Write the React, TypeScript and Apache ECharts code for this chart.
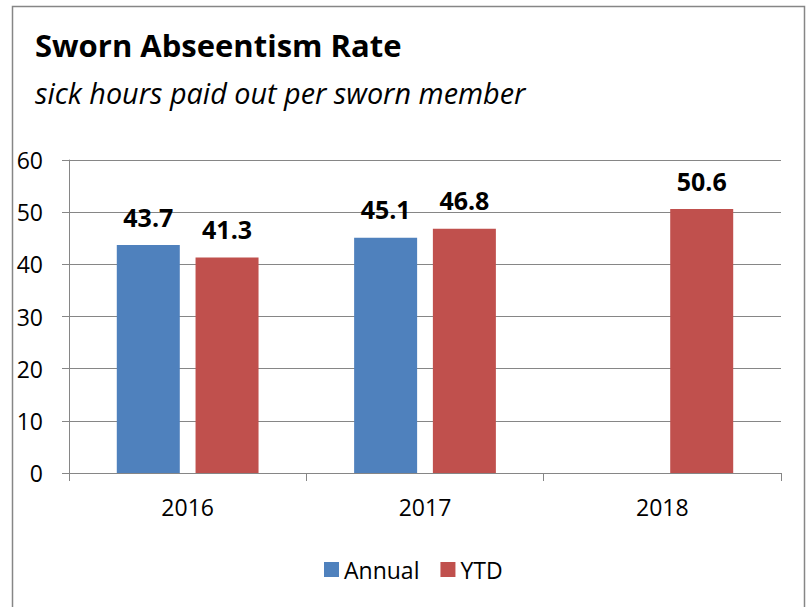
import React, { useEffect, useRef } from "react";
import * as echarts from "echarts";

const categories = ["2016", "2017", "2018"];
const annual: (number | null)[] = [43.7, 45.1, null];
const ytd: (number | null)[] = [41.3, 46.8, 50.6];
const yTicks = { min: 0, max: 60, interval: 10 };

const FONT = "Open Sans";

export default function App() {
  const ref = useRef<HTMLDivElement>(null);
  useEffect(() => {
    if (!ref.current) return;
    const chart = echarts.init(ref.current, null, { renderer: "svg" });
    const labelStyle = {
      show: true,
      position: "top" as const,
      distance: 16,
      fontFamily: FONT,
      fontWeight: "bold" as const,
      fontSize: 25,
      color: "#000",
    };
    chart.setOption({
      animation: false,
      backgroundColor: "#fff",
      title: [
        {
          text: "Sworn Abseentism Rate",
          left: 35,
          top: 29,
          padding: 0,
          textStyle: { fontFamily: FONT, fontWeight: "bold", fontSize: 31, color: "#000" },
        },
        {
          text: "sick hours paid out per sworn member",
          left: 35,
          top: 78,
          padding: 0,
          textStyle: { fontFamily: FONT, fontStyle: "italic", fontWeight: "normal", fontSize: 28.8, color: "#000" },
        },
      ],
      graphic: [
        {
          type: "rect",
          shape: { x: 12.5, y: 6.5, width: 792, height: 640 },
          style: { fill: "none", stroke: "#868686", lineWidth: 1.5 },
          silent: true,
        },
      ],
      legend: {
        top: 553,
        left: 319,
        itemWidth: 15,
        itemHeight: 15,
        itemGap: 21,
        icon: "rect",
        textStyle: { fontFamily: FONT, fontSize: 23, color: "#000" },
        data: ["Annual", "YTD"],
      },
      grid: { left: 69, right: 28, top: 160, bottom: 134 },
      xAxis: {
        type: "category",
        data: categories,
        axisLine: { lineStyle: { color: "#868686", width: 1 } },
        axisTick: { show: true, length: 8, lineStyle: { color: "#868686" } },
        axisLabel: { fontFamily: FONT, fontSize: 23, color: "#000", margin: 22 },
      },
      yAxis: {
        type: "value",
        min: yTicks.min,
        max: yTicks.max,
        interval: yTicks.interval,
        axisLine: { show: true, lineStyle: { color: "#868686", width: 1 } },
        axisTick: { show: true, length: 7, lineStyle: { color: "#868686" } },
        axisLabel: { fontFamily: FONT, fontSize: 23, color: "#000", margin: 26 },
        splitLine: { lineStyle: { color: "#868686", width: 1 } },
      },
      series: [
        {
          name: "Annual",
          type: "bar",
          data: annual,
          barWidth: 63,
          barGap: "25%",
          itemStyle: { color: "#4F81BD" },
          label: labelStyle,
        },
        {
          name: "YTD",
          type: "bar",
          data: ytd,
          barWidth: 63,
          barGap: "25%",
          itemStyle: { color: "#C0504D" },
          label: labelStyle,
        },
      ],
    });
    return () => chart.dispose();
  }, []);
  return (
    <div
      ref={ref}
      style={{ position: "fixed", left: 0, top: 0, width: 809, height: 607 }}
    />
  );
}
